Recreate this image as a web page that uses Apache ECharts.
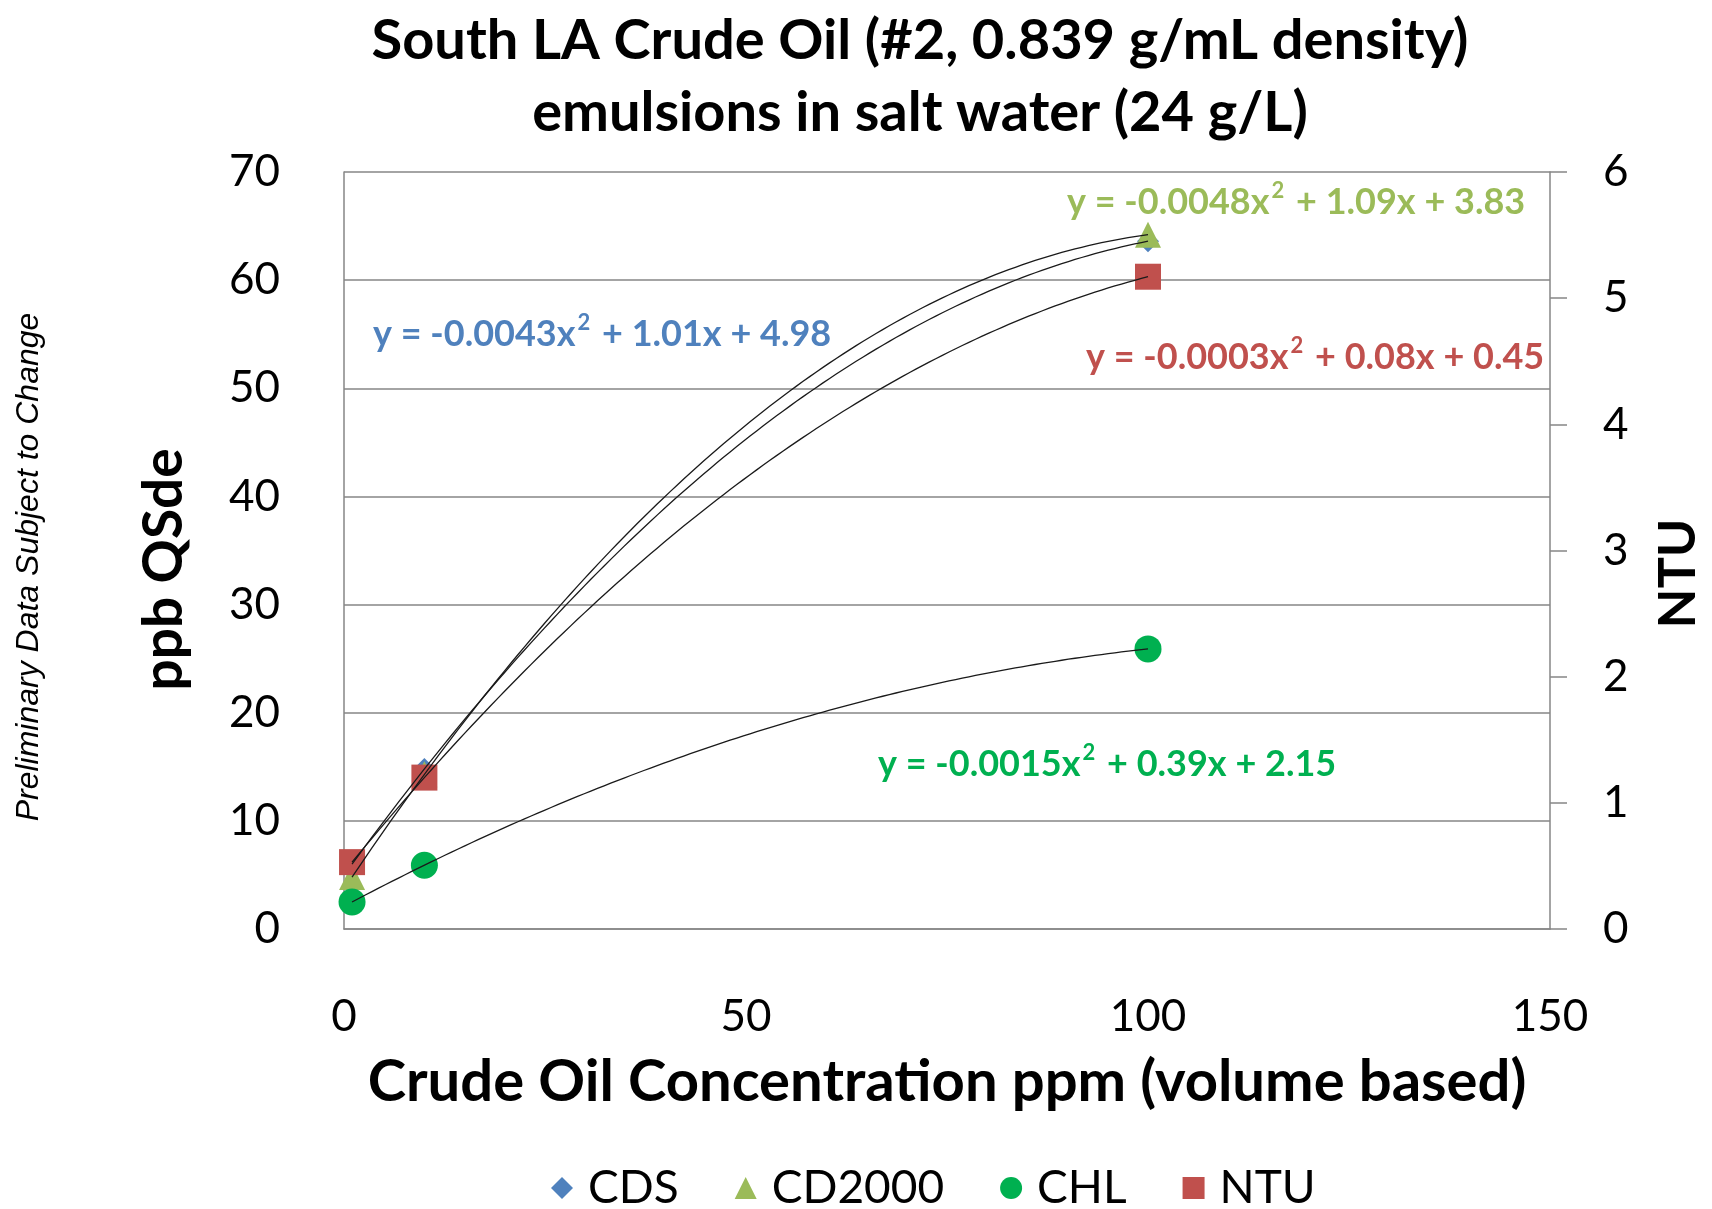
<!DOCTYPE html>
<html>
<head>
<meta charset="utf-8">
<script src="https://cdn.jsdelivr.net/npm/echarts@6/dist/echarts.min.js"></script>
<style>html,body{margin:0;padding:0;background:#fff;}#chart{width:1712px;height:1209px;}</style>
</head>
<body>
<div id="chart"></div>
<script>
// ---- data ----
const xConc = [1, 10, 100];
const cdsVals = [6.0, 14.8, 63.6];
const cd2000Vals = [4.8, 14.3, 64.2];
const chlVals = [2.5, 5.9, 25.9];
const ntuVals = [0.53, 1.20, 5.17];
const seriesNames = ['CDS', 'CD2000', 'CHL', 'NTU'];
const equationTexts = [
  ['y = -0.0043x', '2', ' + 1.01x + 4.98'],
  ['y = -0.0048x', '2', ' + 1.09x + 3.83'],
  ['y = -0.0015x', '2', ' + 0.39x + 2.15'],
  ['y = -0.0003x', '2', ' + 0.08x + 0.45']
];
const xTicks = [0, 50, 100, 150];

const colors = ['#4F81BD', '#9BBB59', '#00B050', '#C0504D'];
const FONT = 'Lato, "Open Sans", sans-serif';

function pairs(ys) { return xConc.map((x, i) => [x, ys[i]]); }

// polynomial (order 2) trendline of the series points, as the spreadsheet's trendline
function fitQuad(pts) {
  let S = [0,0,0,0,0], T = [0,0,0];
  pts.forEach(([x, y]) => {
    for (let k = 0; k < 5; k++) S[k] += Math.pow(x, k);
    for (let k = 0; k < 3; k++) T[k] += y * Math.pow(x, k);
  });
  const A = [[S[0],S[1],S[2]],[S[1],S[2],S[3]],[S[2],S[3],S[4]]];
  const det = m => m[0][0]*(m[1][1]*m[2][2]-m[1][2]*m[2][1]) - m[0][1]*(m[1][0]*m[2][2]-m[1][2]*m[2][0]) + m[0][2]*(m[1][0]*m[2][1]-m[1][1]*m[2][0]);
  const D = det(A);
  const c = [0,1,2].map(j => det(A.map((row, i) => row.map((v, k) => k === j ? T[i] : v))) / D);
  return x => c[0] + c[1]*x + c[2]*x*x;
}

function trendSeries(name, ys, yAxisIndex) {
  const pts = pairs(ys);
  const f = fitQuad(pts);
  const x0 = xConc[0], x1 = xConc[xConc.length - 1];
  return {
    name: name + ' trend', type: 'custom', xAxisIndex: 0, yAxisIndex: yAxisIndex,
    z: 10, silent: true, data: pts,
    renderItem: function (params, api) {
      if (params.dataIndex !== 0) return null;
      const out = [];
      const n = 120;
      for (let i = 0; i <= n; i++) {
        const x = x0 + (x1 - x0) * i / n;
        out.push(api.coord([x, f(x)]));
      }
      return { type: 'polyline', shape: { points: out }, style: { stroke: '#1a1a1a', lineWidth: 1.3, fill: null } };
    }
  };
}

function scatter(name, ys, symbol, size, color, yAxisIndex, z) {
  return { name: name, type: 'scatter', yAxisIndex: yAxisIndex, data: pairs(ys), symbol: symbol,
    symbolSize: size, itemStyle: { color: color, opacity: 1 }, z: z };
}

function eqText(idx, x, y) {
  const t = equationTexts[idx];
  return {
    type: 'text', x: x, y: y, z: 100,
    style: {
      text: '{a|' + t[0] + '}{s|' + t[1] + '}{a|' + t[2] + '}',
      textVerticalAlign: 'middle', textAlign: 'left',
      rich: {
        a: { fontFamily: FONT, fontWeight: 'bold', fontSize: 36, fill: colors[idx], lineHeight: 44 },
        s: { fontFamily: FONT, fontWeight: 'bold', fontSize: 22, fill: colors[idx], verticalAlign: 'top', lineHeight: 44, padding: [0, 3, 0, 2] }
      }
    }
  };
}

const chart = echarts.init(document.getElementById('chart'), null, { renderer: 'canvas' });
const axisGray = '#868686';
chart.setOption({
  animation: false,
  backgroundColor: '#ffffff',
  title: {
    text: 'South LA Crude Oil (#2, 0.839 g/mL density)\nemulsions in salt water (24 g/L)',
    left: 915, top: 0, textAlign: 'center',
    textStyle: { fontFamily: FONT, fontWeight: 'bold', fontSize: 56, lineHeight: 72, color: '#000' }
  },
  legend: {
    data: seriesNames, top: 1160, left: 546, itemGap: 56, itemWidth: 22, itemHeight: 22,
    textStyle: { fontFamily: FONT, fontSize: 46, color: '#000', padding: [0, 0, 0, 10] }
  },
  grid: { left: 344, right: 157, top: 172, bottom: 280, containLabel: false },
  xAxis: {
    type: 'value', min: 0, max: 150, interval: 50,
    name: 'Crude Oil Concentration ppm (volume based)', nameLocation: 'middle', nameGap: 124,
    nameTextStyle: { fontFamily: FONT, fontWeight: 'bold', fontSize: 58, color: '#000' },
    axisLine: { show: true, lineStyle: { color: axisGray, width: 1.5 } },
    axisTick: { show: false },
    splitLine: { show: false },
    axisLabel: { fontFamily: FONT, fontSize: 44, color: '#000', margin: 66, formatter: v => xTicks.indexOf(v) >= 0 ? String(v) : '' }
  },
  yAxis: [
    {
      type: 'value', min: 0, max: 70, interval: 10, position: 'left',
      name: 'ppb QSde', nameLocation: 'middle', nameGap: 152, nameRotate: 90,
      nameTextStyle: { fontFamily: FONT, fontWeight: 'bold', fontSize: 55, color: '#000', padding: [0, 38, 0, 0] },
      axisLine: { show: true, lineStyle: { color: axisGray, width: 1.5 } },
      axisTick: { show: false },
      splitLine: { show: true, lineStyle: { color: axisGray, width: 1.5 } },
      axisLabel: { fontFamily: FONT, fontSize: 44, color: '#000', margin: 64 }
    },
    {
      type: 'value', min: 0, max: 6, interval: 1, position: 'right',
      name: 'NTU', nameLocation: 'middle', nameGap: 102, nameRotate: 90,
      nameTextStyle: { fontFamily: FONT, fontWeight: 'bold', fontSize: 52, color: '#000', padding: [0, 46, 0, 0] },
      axisLine: { show: true, lineStyle: { color: axisGray, width: 1.5 } },
      axisTick: { show: true, length: 17, lineStyle: { color: axisGray, width: 1.5 } },
      splitLine: { show: false },
      axisLabel: { fontFamily: FONT, fontSize: 44, color: '#000', margin: 53 }
    }
  ],
  graphic: [
    {
      type: 'text', x: 29, y: 567, rotation: Math.PI / 2,
      style: { text: 'Preliminary Data Subject to Change', fontFamily: '"Liberation Sans", Arial, sans-serif',
        fontStyle: 'italic', fontSize: 32, fill: '#000', textAlign: 'center', textVerticalAlign: 'middle' }
    },
    eqText(0, 373, 334),
    eqText(1, 1067, 202),
    eqText(3, 1086, 357),
    eqText(2, 878, 764)
  ],
  series: [
    scatter('CDS', cdsVals, 'diamond', 22, colors[0], 0, 2),
    scatter('CD2000', cd2000Vals, 'triangle', 26, colors[1], 0, 3),
    scatter('CHL', chlVals, 'circle', 27, colors[2], 0, 4),
    scatter('NTU', ntuVals, 'rect', 26, colors[3], 1, 5),
    trendSeries('CDS', cdsVals, 0),
    trendSeries('CD2000', cd2000Vals, 0),
    trendSeries('CHL', chlVals, 0),
    trendSeries('NTU', ntuVals, 1)
  ]
});
</script>
</body>
</html>
